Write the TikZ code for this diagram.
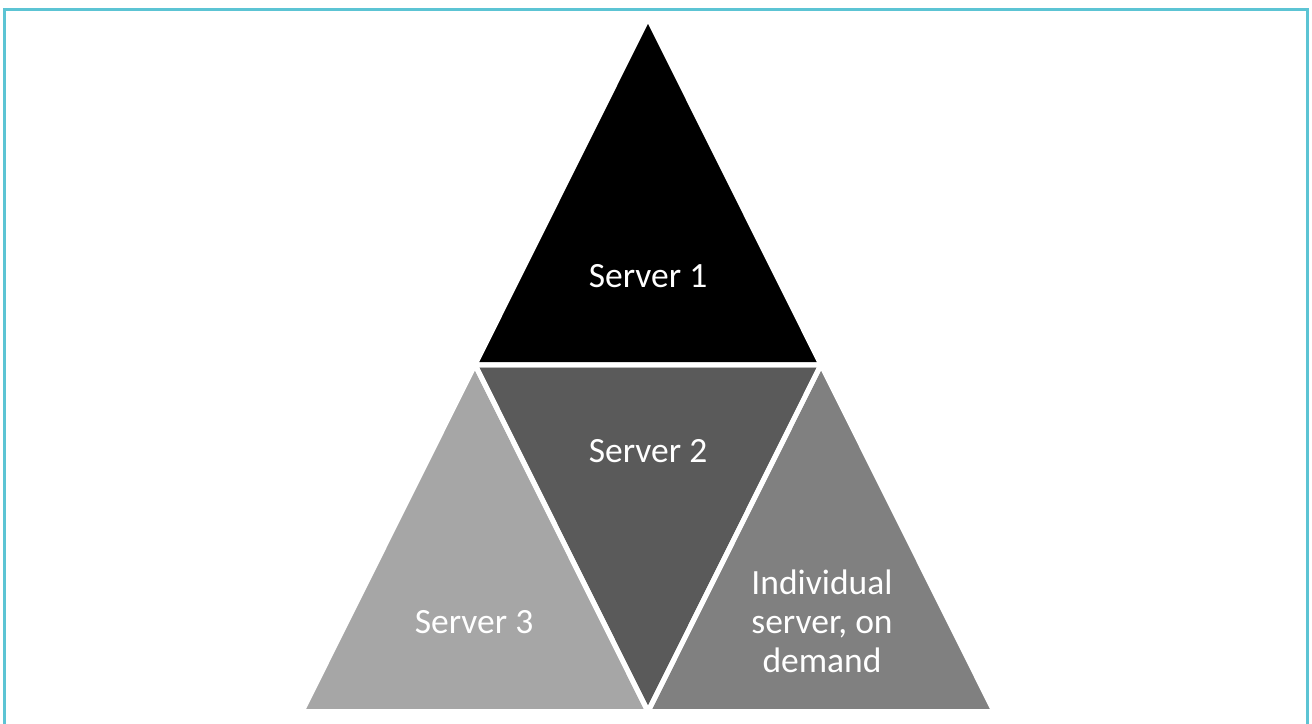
\documentclass[tikz,border=0pt]{standalone}
\usepackage{fontspec}
\setmainfont{Carlito}
\definecolor{framecol}{RGB}{92,196,212}
\definecolor{tri1}{RGB}{0,0,0}
\definecolor{tri2}{RGB}{90,90,90}
\definecolor{tri3}{RGB}{166,166,166}
\definecolor{tri4}{RGB}{128,128,128}
\tikzset{
  tri/.style={draw=white, line width=5pt, line join=miter},
  lbl/.style={text=white, font=\fontsize{35.5}{39}\selectfont, align=center, inner sep=0pt}
}
\begin{document}
\begin{tikzpicture}[x=1pt,y=-1pt]
\useasboundingbox (0,0) rectangle (1312,723);
\draw[framecol, line width=3pt] (4.5,9.5) rectangle (1307.5,760);
% outer triangle geometry
\coordinate (A) at (648,18);
\coordinate (ML) at (475,364.75);
\coordinate (MR) at (821,364.75);
\coordinate (BL) at (302,711.5);
\coordinate (BC) at (648,711.5);
\coordinate (BR) at (994,711.5);
\fill[tri1] (A) -- (ML) -- (MR) -- cycle;
\fill[tri3] (ML) -- (BL) -- (BC) -- cycle;
\fill[tri4] (MR) -- (BC) -- (BR) -- cycle;
\fill[tri2] (ML) -- (MR) -- (BC) -- cycle;
\draw[tri] (A) -- (ML) -- (MR) -- cycle;
\draw[tri] (ML) -- (BL) -- (BC) -- cycle;
\draw[tri] (MR) -- (BC) -- (BR) -- cycle;
\draw[tri] (ML) -- (MR) -- (BC) -- cycle;
\node[lbl] (s1) at (648,276) {Server 1};
\node[lbl] (s2) at (648,451) {Server 2};
\node[lbl] (s3) at (474,622) {Server 3};
\node[lbl] (s4) at (822,621) {Individual\\server, on\\demand};
\end{tikzpicture}
\end{document}
